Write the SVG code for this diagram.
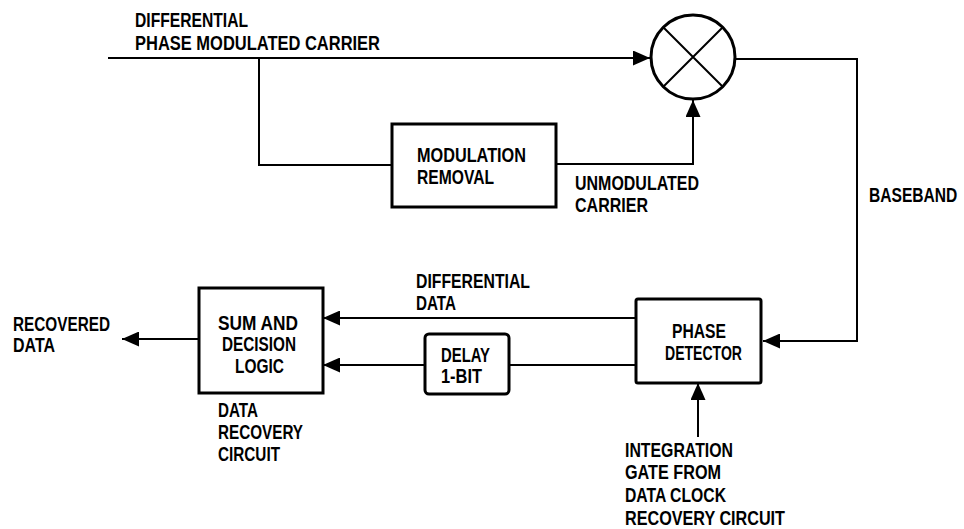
<svg xmlns="http://www.w3.org/2000/svg" width="964" height="529" viewBox="0 0 964 529">
<style>
text{font-family:"Liberation Sans",Arial,sans-serif;font-weight:bold;font-size:20px;fill:#000}
.box{fill:#fff;stroke:#000;stroke-width:3}
.ln{fill:none;stroke:#000;stroke-width:2}
</style>
<defs>
<marker id="ah" markerUnits="userSpaceOnUse" markerWidth="17" markerHeight="15" refX="17" refY="7.5" orient="auto">
<path d="M0,0 L17,7.5 L0,15 z" fill="#000"/>
</marker>
</defs>
<rect width="964" height="529" fill="#fff"/>
<g id="connectors">
<path class="ln" d="M108,58 L650,58" marker-end="url(#ah)"/>
<path class="ln" d="M259,58 L259,165 L392,165"/>
<path class="ln" d="M556,164 L693,164 L693,100" marker-end="url(#ah)"/>
<path class="ln" d="M736,59 L857,59 L857,341 L763,341" marker-end="url(#ah)"/>
<path class="ln" d="M636,318 L323,318" marker-end="url(#ah)"/>
<path class="ln" d="M636,365 L509,365"/>
<path class="ln" d="M425,365 L323,365" marker-end="url(#ah)"/>
<path class="ln" d="M199,339 L122,339" marker-end="url(#ah)"/>
<path class="ln" d="M698,437 L698,383" marker-end="url(#ah)"/>
</g>
<g id="mixer">
<circle cx="693" cy="57" r="42" fill="#fff" stroke="#000" stroke-width="3"/>
<path class="ln" d="M663,27 L723,87 M723,27 L663,87"/>
</g>
<g id="modulation-removal">
<rect class="box" x="392" y="124" width="164" height="83"/>
<text x="417" y="162" textLength="109" lengthAdjust="spacingAndGlyphs">MODULATION</text>
<text x="417" y="184" textLength="77" lengthAdjust="spacingAndGlyphs">REMOVAL</text>
</g>
<g id="phase-detector">
<rect class="box" x="636" y="299" width="125" height="84" rx="2"/>
<text x="672" y="338" textLength="54" lengthAdjust="spacingAndGlyphs">PHASE</text>
<text x="665" y="360" textLength="77" lengthAdjust="spacingAndGlyphs">DETECTOR</text>
</g>
<g id="delay">
<rect class="box" x="425" y="334" width="84" height="60" rx="4"/>
<text x="441" y="362" textLength="49" lengthAdjust="spacingAndGlyphs">DELAY</text>
<text x="441" y="383" textLength="41" lengthAdjust="spacingAndGlyphs">1-BIT</text>
</g>
<g id="sum-decision">
<rect class="box" x="199" y="288" width="124" height="105"/>
<text x="218" y="330" textLength="80" lengthAdjust="spacingAndGlyphs">SUM AND</text>
<text x="222" y="351" textLength="74" lengthAdjust="spacingAndGlyphs">DECISION</text>
<text x="235" y="373" textLength="49" lengthAdjust="spacingAndGlyphs">LOGIC</text>
</g>
<g id="labels">
<text x="135" y="27" textLength="113" lengthAdjust="spacingAndGlyphs">DIFFERENTIAL</text>
<text x="135" y="50" textLength="245" lengthAdjust="spacingAndGlyphs">PHASE MODULATED CARRIER</text>
<text x="575" y="190" textLength="124" lengthAdjust="spacingAndGlyphs">UNMODULATED</text>
<text x="575" y="212" textLength="73" lengthAdjust="spacingAndGlyphs">CARRIER</text>
<text transform="translate(869,202) scale(0.78,1)" x="0" y="0">BASEBAND</text>
<text x="416" y="288" textLength="114" lengthAdjust="spacingAndGlyphs">DIFFERENTIAL</text>
<text x="416" y="310" textLength="40" lengthAdjust="spacingAndGlyphs">DATA</text>
<text x="13" y="331" textLength="97" lengthAdjust="spacingAndGlyphs">RECOVERED</text>
<text x="13" y="352" textLength="42" lengthAdjust="spacingAndGlyphs">DATA</text>
<text x="218" y="417" textLength="40" lengthAdjust="spacingAndGlyphs">DATA</text>
<text x="218" y="439" textLength="85" lengthAdjust="spacingAndGlyphs">RECOVERY</text>
<text x="218" y="461" textLength="62" lengthAdjust="spacingAndGlyphs">CIRCUIT</text>
<text x="625" y="457" textLength="108" lengthAdjust="spacingAndGlyphs">INTEGRATION</text>
<text x="625" y="479" textLength="96" lengthAdjust="spacingAndGlyphs">GATE FROM</text>
<text x="625" y="502" textLength="101" lengthAdjust="spacingAndGlyphs">DATA CLOCK</text>
<text x="625" y="525" textLength="160" lengthAdjust="spacingAndGlyphs">RECOVERY CIRCUIT</text>
</g>
</svg>
